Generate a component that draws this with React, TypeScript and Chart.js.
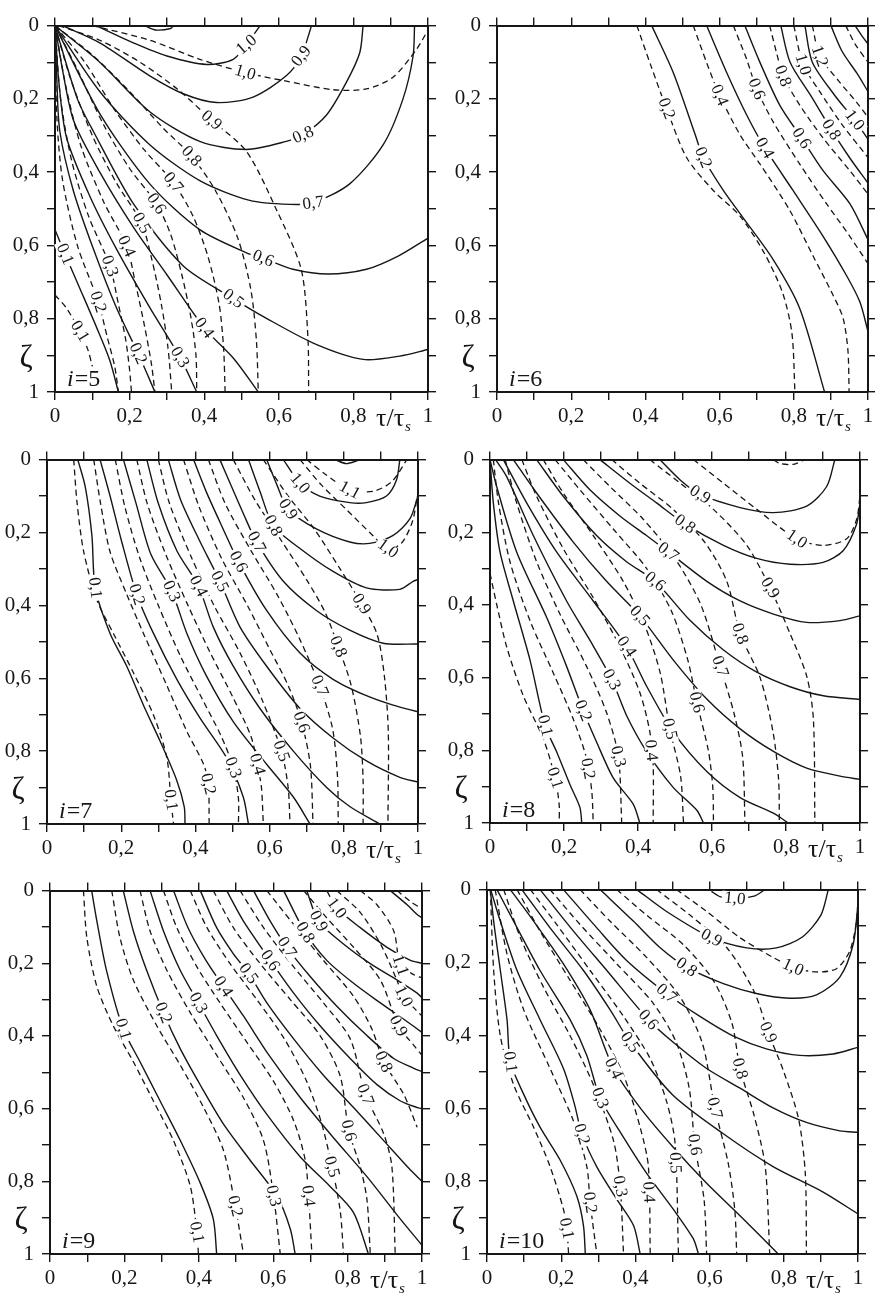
import { useEffect, useRef } from 'react';
import { Chart, registerables } from 'chart.js';

Chart.register(...registerables);

type Pt = [number, number];
type Lbl = [number, string, number, number]; // curve index, text, x, y

// ---------------- i = 5 ----------------
const I5_SOLID: Pt[][] = [
  [[0, 0.557], [0.027, 0.624], [0.067, 0.718], [0.112, 0.825], [0.147, 0.914], [0.17, 1]],
  [[0, 0], [0.005, 0.15], [0.013, 0.289], [0.049, 0.45], [0.103, 0.61], [0.165, 0.771], [0.223, 0.895], [0.268, 1]],
  [[0, 0], [0.01, 0.15], [0.031, 0.306], [0.094, 0.467], [0.165, 0.61], [0.255, 0.771], [0.335, 0.905], [0.38, 1]],
  [[0, 0], [0.02, 0.12], [0.05, 0.26], [0.12, 0.4], [0.21, 0.55], [0.3, 0.68], [0.4, 0.825], [0.48, 0.91], [0.545, 1]],
  [[0, 0], [0.06, 0.2], [0.103, 0.289], [0.21, 0.486], [0.344, 0.656], [0.478, 0.745], [0.567, 0.799], [0.7, 0.87], [0.826, 0.911], [0.924, 0.902], [1, 0.884]],
  [[0, 0], [0.12, 0.24], [0.254, 0.432], [0.388, 0.557], [0.522, 0.624], [0.558, 0.635], [0.638, 0.665], [0.732, 0.678], [0.835, 0.665], [0.92, 0.629], [1, 0.58]],
  [[0, 0], [0.12, 0.18], [0.254, 0.325], [0.388, 0.423], [0.522, 0.477], [0.63, 0.488], [0.692, 0.484], [0.79, 0.432], [0.88, 0.325], [0.933, 0.2], [0.96, 0.083], [0.964, 0]],
  [[0, 0], [0.12, 0.1], [0.254, 0.235], [0.388, 0.316], [0.513, 0.338], [0.62, 0.316], [0.665, 0.298], [0.728, 0.244], [0.781, 0.155], [0.817, 0.074], [0.826, 0]],
  [[0.02, 0], [0.12, 0.047], [0.254, 0.137], [0.344, 0.186], [0.433, 0.21], [0.531, 0.195], [0.62, 0.137], [0.66, 0.083], [0.688, 0]],
  [[0.11, 0], [0.21, 0.047], [0.3, 0.083], [0.406, 0.106], [0.478, 0.092], [0.513, 0.052], [0.55, 0]],
  [[0.24, 0], [0.27, 0.012], [0.31, 0.008], [0.317, 0]],
];
const I5_SOLID_LABELS: Lbl[] = [
  [0, '0,1', 0.027, 0.624], [1, '0,2', 0.223, 0.895], [2, '0,3', 0.335, 0.905], [3, '0,4', 0.4, 0.825],
  [4, '0,5', 0.478, 0.745], [5, '0,6', 0.558, 0.635], [6, '0,7', 0.692, 0.484], [7, '0,8', 0.665, 0.298],
  [8, '0,9', 0.66, 0.083], [9, '1,0', 0.513, 0.052],
];
const I5_DASHED: Pt[][] = [
  [[0, 0.735], [0.03, 0.77], [0.067, 0.834], [0.089, 0.887], [0.1, 0.93]],
  [[0, 0], [0.005, 0.25], [0.02, 0.42], [0.06, 0.6], [0.116, 0.754], [0.14, 0.85], [0.16, 0.93], [0.17, 1]],
  [[0, 0], [0.015, 0.2], [0.045, 0.37], [0.09, 0.52], [0.147, 0.656], [0.17, 0.76], [0.19, 0.86], [0.2, 0.94], [0.205, 1]],
  [[0, 0], [0.03, 0.17], [0.07, 0.33], [0.13, 0.48], [0.192, 0.602], [0.215, 0.7], [0.24, 0.82], [0.258, 0.92], [0.268, 1]],
  [[0, 0], [0.04, 0.14], [0.1, 0.3], [0.165, 0.43], [0.232, 0.539], [0.26, 0.64], [0.285, 0.76], [0.303, 0.88], [0.313, 1]],
  [[0, 0], [0.06, 0.12], [0.13, 0.27], [0.2, 0.39], [0.272, 0.486], [0.31, 0.57], [0.34, 0.68], [0.365, 0.8], [0.378, 0.9], [0.38, 1]],
  [[0, 0], [0.08, 0.1], [0.16, 0.23], [0.24, 0.34], [0.317, 0.428], [0.37, 0.52], [0.41, 0.63], [0.44, 0.76], [0.452, 0.88], [0.456, 1]],
  [[0, 0], [0.1, 0.08], [0.2, 0.18], [0.29, 0.28], [0.366, 0.356], [0.43, 0.45], [0.49, 0.58], [0.525, 0.72], [0.54, 0.86], [0.545, 1]],
  [[0.01, 0], [0.12, 0.04], [0.228, 0.1], [0.33, 0.175], [0.42, 0.258], [0.513, 0.343], [0.594, 0.503], [0.66, 0.665], [0.678, 0.85], [0.68, 1]],
  [[0.1, 0], [0.254, 0.04], [0.388, 0.092], [0.51, 0.128], [0.612, 0.15], [0.746, 0.175], [0.835, 0.173], [0.906, 0.141], [0.969, 0.065], [1, 0.012]],
];
const I5_DASHED_LABELS: Lbl[] = [
  [0, '0,1', 0.067, 0.834], [1, '0,2', 0.116, 0.754], [2, '0,3', 0.147, 0.656], [3, '0,4', 0.192, 0.602],
  [4, '0,5', 0.232, 0.539], [5, '0,6', 0.272, 0.486], [6, '0,7', 0.317, 0.428], [7, '0,8', 0.366, 0.356],
  [8, '0,9', 0.42, 0.258], [9, '1,0', 0.51, 0.128],
];

// ---------------- i = 6 ----------------
const I6_SOLID: Pt[][] = [
  [[0.417, 0], [0.475, 0.128], [0.535, 0.3], [0.556, 0.36], [0.61, 0.45], [0.66, 0.52], [0.744, 0.638], [0.816, 0.772], [0.883, 1]],
  [[0.565, 0], [0.619, 0.128], [0.673, 0.244], [0.722, 0.334], [0.798, 0.45], [0.879, 0.575], [0.942, 0.682], [0.978, 0.754], [1, 0.835]],
  [[0.668, 0], [0.709, 0.101], [0.762, 0.217], [0.821, 0.307], [0.879, 0.396], [0.951, 0.486], [1, 0.584]],
  [[0.765, 0], [0.79, 0.1], [0.845, 0.19], [0.901, 0.284], [0.95, 0.36], [1, 0.43]],
  [[0.83, 0], [0.85, 0.1], [0.91, 0.19], [0.964, 0.258], [1, 0.31]],
  [[0.9, 0], [0.93, 0.07], [0.97, 0.13], [1, 0.18]],
  [[0.965, 0], [0.985, 0.03], [1, 0.05]],
];
const I6_SOLID_LABELS: Lbl[] = [
  [0, '0,2', 0.556, 0.36], [1, '0,4', 0.722, 0.334], [2, '0,6', 0.821, 0.307], [3, '0,8', 0.901, 0.284], [4, '1,0', 0.964, 0.258],
];
const I6_DASHED: Pt[][] = [
  [[0.377, 0], [0.415, 0.11], [0.457, 0.226], [0.511, 0.36], [0.583, 0.45], [0.655, 0.52], [0.72, 0.62], [0.77, 0.73], [0.795, 0.84], [0.803, 1]],
  [[0.529, 0], [0.565, 0.101], [0.6, 0.19], [0.655, 0.298], [0.709, 0.378], [0.789, 0.504], [0.852, 0.629], [0.906, 0.736], [0.933, 0.799], [0.946, 0.888], [0.949, 1]],
  [[0.637, 0], [0.673, 0.092], [0.7, 0.173], [0.744, 0.262], [0.816, 0.378], [0.888, 0.486], [0.951, 0.575], [1, 0.65]],
  [[0.735, 0], [0.755, 0.08], [0.771, 0.137], [0.816, 0.217], [0.879, 0.307], [0.951, 0.396], [1, 0.46]],
  [[0.8, 0], [0.825, 0.106], [0.87, 0.18], [0.93, 0.27], [1, 0.36]],
  [[0.85, 0], [0.87, 0.083], [0.92, 0.15], [0.97, 0.21], [1, 0.25]],
  [[0.94, 0], [0.965, 0.05], [1, 0.1]],
];
const I6_DASHED_LABELS: Lbl[] = [
  [0, '0,2', 0.457, 0.226], [1, '0,4', 0.6, 0.19], [2, '0,6', 0.7, 0.173], [3, '0,8', 0.771, 0.137], [4, '1,0', 0.825, 0.106], [5, '1,2', 0.87, 0.083],
];

// ---------------- i = 7 ----------------
const I7_SOLID: Pt[][] = [
  [[0.083, 0], [0.103, 0.074], [0.121, 0.208], [0.13, 0.352], [0.17, 0.477], [0.215, 0.567], [0.26, 0.674], [0.305, 0.773], [0.35, 0.881], [0.37, 0.953], [0.372, 1]],
  [[0.143, 0], [0.17, 0.1], [0.2, 0.22], [0.242, 0.37], [0.287, 0.477], [0.35, 0.603], [0.413, 0.71], [0.484, 0.818], [0.529, 0.926], [0.543, 1]],
  [[0.206, 0], [0.24, 0.12], [0.28, 0.26], [0.336, 0.361], [0.377, 0.477], [0.43, 0.594], [0.502, 0.719], [0.592, 0.836], [0.664, 0.926], [0.709, 1]],
  [[0.269, 0], [0.3, 0.12], [0.35, 0.25], [0.408, 0.347], [0.448, 0.459], [0.502, 0.567], [0.574, 0.683], [0.664, 0.8], [0.753, 0.899], [0.816, 0.952], [0.897, 1]],
  [[0.327, 0], [0.36, 0.11], [0.41, 0.22], [0.466, 0.334], [0.52, 0.459], [0.592, 0.567], [0.682, 0.683], [0.771, 0.764], [0.861, 0.827], [0.951, 0.872], [1, 0.885]],
  [[0.395, 0], [0.43, 0.09], [0.47, 0.18], [0.516, 0.28], [0.592, 0.414], [0.682, 0.531], [0.771, 0.603], [0.861, 0.648], [0.933, 0.674], [1, 0.692]],
  [[0.466, 0], [0.5, 0.08], [0.53, 0.15], [0.565, 0.226], [0.637, 0.334], [0.726, 0.414], [0.816, 0.468], [0.906, 0.504], [1, 0.506]],
  [[0.543, 0], [0.575, 0.09], [0.61, 0.181], [0.682, 0.244], [0.771, 0.307], [0.861, 0.352], [0.951, 0.356], [0.987, 0.334], [1, 0.329]],
  [[0.592, 0], [0.62, 0.07], [0.65, 0.136], [0.726, 0.19], [0.816, 0.226], [0.87, 0.23], [0.933, 0.208], [0.978, 0.163], [1, 0.1]],
  [[0.637, 0], [0.682, 0.065], [0.735, 0.1], [0.816, 0.118], [0.861, 0.118], [0.915, 0.1], [0.942, 0.056], [0.951, 0]],
  [[0.776, 0], [0.807, 0.011], [0.839, 0.002]],
];
const I7_SOLID_LABELS: Lbl[] = [
  [0, '0,1', 0.13, 0.352], [1, '0,2', 0.242, 0.37], [2, '0,3', 0.336, 0.361], [3, '0,4', 0.408, 0.347],
  [4, '0,5', 0.466, 0.334], [5, '0,6', 0.516, 0.28], [6, '0,7', 0.565, 0.226], [7, '0,8', 0.61, 0.181],
  [8, '0,9', 0.65, 0.136], [9, '1,0', 0.682, 0.065],
];
const I7_DASHED: Pt[][] = [
  [[0.072, 0], [0.081, 0.118], [0.099, 0.253], [0.135, 0.387], [0.179, 0.477], [0.233, 0.585], [0.287, 0.701], [0.323, 0.818], [0.334, 0.934], [0.341, 1]],
  [[0.126, 0], [0.144, 0.118], [0.17, 0.253], [0.215, 0.37], [0.26, 0.477], [0.323, 0.62], [0.377, 0.746], [0.422, 0.836], [0.435, 0.89], [0.437, 1]],
  [[0.184, 0], [0.21, 0.13], [0.25, 0.27], [0.3, 0.4], [0.36, 0.54], [0.42, 0.66], [0.47, 0.76], [0.502, 0.845], [0.516, 0.93], [0.516, 1]],
  [[0.242, 0], [0.27, 0.12], [0.32, 0.26], [0.38, 0.4], [0.44, 0.53], [0.5, 0.65], [0.55, 0.76], [0.567, 0.836], [0.578, 0.9], [0.583, 1]],
  [[0.3, 0], [0.33, 0.12], [0.39, 0.27], [0.45, 0.4], [0.52, 0.53], [0.58, 0.66], [0.632, 0.8], [0.65, 0.9], [0.655, 1]],
  [[0.368, 0], [0.41, 0.13], [0.47, 0.27], [0.54, 0.4], [0.6, 0.52], [0.65, 0.62], [0.686, 0.72], [0.71, 0.84], [0.717, 1]],
  [[0.435, 0], [0.48, 0.12], [0.55, 0.25], [0.62, 0.37], [0.68, 0.49], [0.735, 0.621], [0.77, 0.74], [0.783, 0.87], [0.785, 1]],
  [[0.502, 0], [0.56, 0.11], [0.63, 0.22], [0.7, 0.33], [0.75, 0.42], [0.785, 0.513], [0.82, 0.62], [0.845, 0.76], [0.852, 0.88], [0.852, 1]],
  [[0.583, 0], [0.65, 0.1], [0.72, 0.19], [0.79, 0.3], [0.848, 0.396], [0.89, 0.48], [0.91, 0.6], [0.92, 0.75], [0.919, 1]],
  [[0.682, 0], [0.74, 0.07], [0.81, 0.14], [0.87, 0.2], [0.919, 0.244], [0.955, 0.23], [0.985, 0.17], [0.998, 0.1]],
  [[0.7, 0], [0.75, 0.04], [0.816, 0.083], [0.88, 0.087], [0.93, 0.06], [0.97, 0]],
];
const I7_DASHED_LABELS: Lbl[] = [
  [0, '0,1', 0.334, 0.934], [1, '0,2', 0.435, 0.89], [2, '0,3', 0.502, 0.845], [3, '0,4', 0.567, 0.836],
  [4, '0,5', 0.632, 0.8], [5, '0,6', 0.686, 0.72], [6, '0,7', 0.735, 0.621], [7, '0,8', 0.785, 0.513],
  [8, '0,9', 0.848, 0.396], [9, '1,0', 0.919, 0.244], [10, '1,1', 0.816, 0.083],
];

// ---------------- i = 8 ----------------
const I8_SOLID: Pt[][] = [
  [[0, 0], [0.009, 0.119], [0.027, 0.254], [0.063, 0.389], [0.108, 0.551], [0.149, 0.732], [0.18, 0.804], [0.216, 0.894], [0.243, 0.957], [0.248, 1]],
  [[0, 0], [0.018, 0.074], [0.072, 0.254], [0.153, 0.434], [0.207, 0.569], [0.252, 0.691], [0.288, 0.777], [0.333, 0.876], [0.387, 0.948], [0.405, 1]],
  [[0.015, 0], [0.045, 0.047], [0.117, 0.209], [0.207, 0.389], [0.27, 0.497], [0.329, 0.605], [0.369, 0.704], [0.423, 0.803], [0.495, 0.902], [0.559, 0.965], [0.577, 1]],
  [[0.036, 0], [0.099, 0.119], [0.18, 0.254], [0.279, 0.389], [0.369, 0.515], [0.423, 0.623], [0.495, 0.749], [0.586, 0.858], [0.676, 0.93], [0.766, 0.973], [0.806, 1]],
  [[0.063, 0], [0.126, 0.092], [0.225, 0.227], [0.315, 0.335], [0.405, 0.43], [0.495, 0.551], [0.586, 0.659], [0.676, 0.741], [0.766, 0.803], [0.856, 0.849], [0.946, 0.871], [1, 0.88]],
  [[0.126, 0], [0.198, 0.101], [0.288, 0.209], [0.369, 0.281], [0.446, 0.335], [0.541, 0.443], [0.631, 0.524], [0.721, 0.585], [0.811, 0.625], [0.901, 0.65], [1, 0.66]],
  [[0.198, 0], [0.27, 0.083], [0.351, 0.155], [0.423, 0.209], [0.482, 0.254], [0.586, 0.335], [0.676, 0.389], [0.766, 0.425], [0.856, 0.448], [0.946, 0.443], [1, 0.43]],
  [[0.297, 0], [0.378, 0.065], [0.45, 0.119], [0.527, 0.177], [0.631, 0.236], [0.721, 0.272], [0.811, 0.288], [0.9, 0.283], [0.955, 0.25], [0.99, 0.18], [1, 0.12]],
  [[0.459, 0], [0.514, 0.056], [0.568, 0.096], [0.676, 0.132], [0.766, 0.146], [0.856, 0.128], [0.91, 0.074], [0.932, 0]],
];
const I8_SOLID_LABELS: Lbl[] = [
  [0, '0,1', 0.149, 0.732], [1, '0,2', 0.252, 0.691], [2, '0,3', 0.329, 0.605], [3, '0,4', 0.369, 0.515],
  [4, '0,5', 0.405, 0.43], [5, '0,6', 0.446, 0.335], [6, '0,7', 0.482, 0.254], [7, '0,8', 0.527, 0.177], [8, '0,9', 0.568, 0.096],
];
const I8_DASHED: Pt[][] = [
  [[0, 0.313], [0.018, 0.398], [0.045, 0.515], [0.09, 0.65], [0.144, 0.768], [0.176, 0.876], [0.187, 0.95], [0.187, 1]],
  [[0.009, 0], [0.023, 0.119], [0.054, 0.281], [0.108, 0.443], [0.171, 0.587], [0.225, 0.714], [0.261, 0.822], [0.275, 0.912], [0.279, 1]],
  [[0.041, 0], [0.072, 0.119], [0.126, 0.281], [0.189, 0.425], [0.261, 0.569], [0.315, 0.696], [0.347, 0.817], [0.356, 1]],
  [[0.086, 0], [0.126, 0.101], [0.198, 0.245], [0.279, 0.38], [0.351, 0.515], [0.405, 0.641], [0.432, 0.749], [0.441, 0.84], [0.441, 1]],
  [[0.144, 0], [0.198, 0.092], [0.279, 0.209], [0.36, 0.335], [0.42, 0.461], [0.46, 0.587], [0.486, 0.741], [0.515, 0.87], [0.523, 1]],
  [[0.176, 0], [0.243, 0.083], [0.333, 0.191], [0.423, 0.299], [0.49, 0.416], [0.535, 0.553], [0.559, 0.668], [0.59, 0.8], [0.602, 0.9], [0.604, 1]],
  [[0.252, 0], [0.324, 0.074], [0.414, 0.164], [0.5, 0.272], [0.57, 0.4], [0.622, 0.569], [0.66, 0.7], [0.683, 0.82], [0.689, 1]],
  [[0.329, 0], [0.405, 0.065], [0.495, 0.137], [0.58, 0.227], [0.64, 0.335], [0.676, 0.479], [0.73, 0.6], [0.765, 0.75], [0.78, 0.88], [0.782, 1]],
  [[0.432, 0], [0.514, 0.065], [0.604, 0.137], [0.694, 0.236], [0.757, 0.353], [0.811, 0.479], [0.856, 0.596], [0.874, 0.714], [0.878, 1]],
  [[0.55, 0], [0.631, 0.065], [0.721, 0.137], [0.829, 0.218], [0.901, 0.236], [0.964, 0.218], [0.991, 0.164], [1, 0.1]],
  [[0.766, 0], [0.784, 0.011], [0.82, 0.013], [0.847, 0.002]],
];
const I8_DASHED_LABELS: Lbl[] = [
  [0, '0,1', 0.176, 0.876], [1, '0,2', 0.265, 0.85], [2, '0,3', 0.347, 0.817], [3, '0,4', 0.436, 0.8],
  [4, '0,5', 0.486, 0.741], [5, '0,6', 0.559, 0.668], [6, '0,7', 0.622, 0.569], [7, '0,8', 0.676, 0.479],
  [8, '0,9', 0.757, 0.353], [9, '1,0', 0.829, 0.218],
];

// ---------------- i = 9 ----------------
const I9_SOLID: Pt[][] = [
  [[0.112, 0], [0.126, 0.084], [0.152, 0.22], [0.197, 0.381], [0.242, 0.471], [0.296, 0.579], [0.35, 0.687], [0.404, 0.805], [0.439, 0.904], [0.448, 1]],
  [[0.197, 0], [0.224, 0.111], [0.26, 0.22], [0.305, 0.336], [0.35, 0.435], [0.404, 0.535], [0.466, 0.642], [0.538, 0.742], [0.61, 0.84], [0.646, 0.931], [0.659, 1]],
  [[0.269, 0], [0.305, 0.111], [0.35, 0.219], [0.399, 0.309], [0.448, 0.399], [0.511, 0.507], [0.583, 0.616], [0.673, 0.733], [0.753, 0.814], [0.816, 0.886], [0.856, 1]],
  [[0.332, 0], [0.37, 0.1], [0.418, 0.19], [0.466, 0.264], [0.52, 0.345], [0.59, 0.455], [0.673, 0.57], [0.762, 0.68], [0.852, 0.787], [0.942, 0.904], [1, 0.976]],
  [[0.404, 0], [0.448, 0.102], [0.493, 0.174], [0.534, 0.228], [0.583, 0.309], [0.655, 0.408], [0.735, 0.508], [0.816, 0.597], [0.897, 0.688], [0.969, 0.769], [1, 0.8]],
  [[0.475, 0], [0.52, 0.084], [0.592, 0.192], [0.655, 0.282], [0.726, 0.372], [0.807, 0.462], [0.879, 0.534], [0.942, 0.579], [0.987, 0.597], [1, 0.6]],
  [[0.547, 0], [0.592, 0.084], [0.637, 0.156], [0.7, 0.237], [0.771, 0.318], [0.852, 0.399], [0.924, 0.462], [0.978, 0.489], [1, 0.498]],
  [[0.628, 0], [0.686, 0.115], [0.744, 0.192], [0.816, 0.255], [0.888, 0.309], [0.951, 0.354], [1, 0.39]],
  [[0.69, 0], [0.722, 0.084], [0.789, 0.147], [0.861, 0.201], [0.933, 0.246], [0.987, 0.282], [1, 0.295]],
  [[0.744, 0], [0.771, 0.048], [0.834, 0.102], [0.906, 0.156], [0.969, 0.192], [1, 0.2]],
  [[0.915, 0], [0.96, 0.039], [0.987, 0.066], [1, 0.075]],
];
const I9_SOLID_LABELS: Lbl[] = [
  [0, '0,1', 0.197, 0.381], [1, '0,2', 0.305, 0.336], [2, '0,3', 0.399, 0.309], [3, '0,4', 0.466, 0.264],
  [4, '0,5', 0.534, 0.228], [5, '0,6', 0.592, 0.192], [6, '0,7', 0.637, 0.156], [7, '0,8', 0.686, 0.115],
  [8, '0,9', 0.722, 0.084], [9, '1,0', 0.771, 0.048],
];
const I9_DASHED: Pt[][] = [
  [[0.09, 0], [0.099, 0.129], [0.126, 0.264], [0.17, 0.372], [0.224, 0.471], [0.278, 0.579], [0.332, 0.688], [0.377, 0.813], [0.395, 0.94], [0.399, 1]],
  [[0.166, 0], [0.188, 0.129], [0.224, 0.246], [0.287, 0.372], [0.35, 0.48], [0.413, 0.597], [0.466, 0.714], [0.498, 0.868], [0.52, 1]],
  [[0.242, 0], [0.269, 0.111], [0.314, 0.219], [0.377, 0.336], [0.448, 0.453], [0.52, 0.57], [0.574, 0.688], [0.601, 0.84], [0.619, 1]],
  [[0.305, 0], [0.341, 0.102], [0.395, 0.21], [0.457, 0.309], [0.529, 0.417], [0.601, 0.525], [0.655, 0.633], [0.686, 0.741], [0.695, 0.84], [0.704, 1]],
  [[0.377, 0], [0.422, 0.102], [0.484, 0.201], [0.556, 0.3], [0.63, 0.408], [0.69, 0.525], [0.73, 0.64], [0.758, 0.76], [0.78, 0.88], [0.789, 1]],
  [[0.439, 0], [0.493, 0.102], [0.565, 0.201], [0.646, 0.3], [0.726, 0.399], [0.78, 0.51], [0.803, 0.66], [0.834, 0.76], [0.852, 0.85], [0.861, 1]],
  [[0.511, 0], [0.574, 0.102], [0.655, 0.21], [0.735, 0.309], [0.807, 0.408], [0.848, 0.561], [0.897, 0.669], [0.919, 0.759], [0.928, 1]],
  [[0.583, 0], [0.655, 0.093], [0.735, 0.192], [0.816, 0.291], [0.865, 0.38], [0.897, 0.471], [0.951, 0.561], [0.987, 0.651]],
  [[0.682, 0], [0.744, 0.075], [0.816, 0.156], [0.888, 0.246], [0.937, 0.372], [0.978, 0.426], [1, 0.453]],
  [[0.771, 0], [0.834, 0.06], [0.89, 0.15], [0.93, 0.24], [0.951, 0.291], [0.985, 0.33], [1, 0.345]],
  [[0.834, 0], [0.879, 0.039], [0.924, 0.111], [0.942, 0.205], [0.975, 0.23], [1, 0.24]],
  [[0.933, 0], [0.969, 0.03], [1, 0.05]],
];
const I9_DASHED_LABELS: Lbl[] = [
  [0, '0,1', 0.395, 0.94], [1, '0,2', 0.498, 0.868], [2, '0,3', 0.601, 0.84], [3, '0,4', 0.695, 0.84],
  [4, '0,5', 0.758, 0.76], [5, '0,6', 0.803, 0.66], [6, '0,7', 0.848, 0.561], [7, '0,8', 0.897, 0.471],
  [8, '0,9', 0.937, 0.372], [9, '1,0', 0.951, 0.291], [10, '1,1', 0.942, 0.205],
];

// ---------------- i = 10 ----------------
const I10_SOLID: Pt[][] = [
  [[0.009, 0], [0.018, 0.087], [0.036, 0.222], [0.054, 0.357], [0.063, 0.473], [0.099, 0.562], [0.143, 0.652], [0.197, 0.742], [0.242, 0.841], [0.26, 0.922], [0.265, 1]],
  [[0.01, 0], [0.036, 0.087], [0.081, 0.222], [0.143, 0.357], [0.206, 0.491], [0.236, 0.59], [0.256, 0.671], [0.296, 0.761], [0.35, 0.85], [0.395, 0.922], [0.413, 1]],
  [[0.027, 0], [0.072, 0.087], [0.143, 0.222], [0.224, 0.357], [0.269, 0.455], [0.305, 0.572], [0.368, 0.68], [0.43, 0.778], [0.502, 0.877], [0.556, 0.958], [0.57, 1]],
  [[0.063, 0], [0.126, 0.087], [0.206, 0.204], [0.278, 0.33], [0.341, 0.491], [0.413, 0.599], [0.502, 0.707], [0.592, 0.806], [0.682, 0.895], [0.785, 1]],
  [[0.094, 0], [0.17, 0.105], [0.26, 0.222], [0.332, 0.33], [0.386, 0.419], [0.5, 0.563], [0.637, 0.67], [0.771, 0.76], [0.906, 0.83], [1, 0.89]],
  [[0.143, 0], [0.233, 0.114], [0.323, 0.222], [0.435, 0.357], [0.502, 0.419], [0.592, 0.491], [0.682, 0.545], [0.771, 0.599], [0.861, 0.639], [0.951, 0.662], [1, 0.666]],
  [[0.206, 0], [0.296, 0.105], [0.377, 0.195], [0.484, 0.285], [0.574, 0.348], [0.664, 0.402], [0.753, 0.437], [0.843, 0.455], [0.933, 0.451], [1, 0.433]],
  [[0.305, 0], [0.395, 0.087], [0.466, 0.159], [0.538, 0.213], [0.637, 0.258], [0.726, 0.285], [0.816, 0.298], [0.888, 0.289], [0.951, 0.24], [0.987, 0.15], [1, 0.04]],
  [[0.404, 0], [0.484, 0.06], [0.605, 0.132], [0.7, 0.16], [0.78, 0.16], [0.85, 0.13], [0.9, 0.07], [0.92, 0]],
  [[0.605, 0.005], [0.63, 0.02], [0.668, 0.024], [0.72, 0.018], [0.749, 0]],
];
const I10_SOLID_LABELS: Lbl[] = [
  [0, '0,1', 0.063, 0.473], [1, '0,2', 0.256, 0.671], [2, '0,3', 0.305, 0.572], [3, '0,4', 0.341, 0.491],
  [4, '0,5', 0.386, 0.419], [5, '0,6', 0.435, 0.357], [6, '0,7', 0.484, 0.285], [7, '0,8', 0.538, 0.213],
  [8, '0,9', 0.605, 0.132], [9, '1,0', 0.668, 0.024],
];
const I10_DASHED: Pt[][] = [
  [[0.009, 0], [0.018, 0.222], [0.036, 0.402], [0.072, 0.536], [0.126, 0.653], [0.17, 0.76], [0.206, 0.877], [0.215, 0.93], [0.22, 1]],
  [[0.022, 0], [0.054, 0.177], [0.099, 0.33], [0.17, 0.491], [0.233, 0.635], [0.269, 0.76], [0.278, 0.859], [0.296, 1]],
  [[0.045, 0], [0.09, 0.132], [0.152, 0.267], [0.224, 0.401], [0.287, 0.536], [0.341, 0.689], [0.359, 0.814], [0.368, 1]],
  [[0.081, 0], [0.143, 0.114], [0.224, 0.249], [0.305, 0.384], [0.368, 0.509], [0.413, 0.653], [0.435, 0.76], [0.44, 1]],
  [[0.117, 0], [0.188, 0.096], [0.278, 0.222], [0.368, 0.348], [0.44, 0.464], [0.484, 0.581], [0.507, 0.697], [0.516, 1]],
  [[0.17, 0], [0.251, 0.096], [0.35, 0.204], [0.448, 0.312], [0.51, 0.419], [0.545, 0.545], [0.56, 0.7], [0.585, 0.85], [0.592, 1]],
  [[0.251, 0], [0.332, 0.087], [0.43, 0.186], [0.52, 0.294], [0.58, 0.42], [0.614, 0.599], [0.65, 0.75], [0.668, 0.88], [0.673, 1]],
  [[0.35, 0], [0.43, 0.07], [0.529, 0.151], [0.61, 0.249], [0.66, 0.366], [0.682, 0.491], [0.72, 0.62], [0.75, 0.76], [0.762, 1]],
  [[0.457, 0], [0.547, 0.07], [0.646, 0.159], [0.72, 0.28], [0.758, 0.392], [0.8, 0.5], [0.84, 0.63], [0.858, 0.78], [0.861, 1]],
  [[0.511, 0], [0.592, 0.06], [0.682, 0.132], [0.771, 0.186], [0.825, 0.213], [0.888, 0.226], [0.942, 0.217], [0.978, 0.168], [0.996, 0.087], [1, 0.024]],
];
const I10_DASHED_LABELS: Lbl[] = [
  [0, '0,1', 0.215, 0.93], [1, '0,2', 0.278, 0.859], [2, '0,3', 0.359, 0.814], [3, '0,4', 0.436, 0.83],
  [4, '0,5', 0.508, 0.75], [5, '0,6', 0.56, 0.7], [6, '0,7', 0.614, 0.599], [7, '0,8', 0.682, 0.491],
  [8, '0,9', 0.758, 0.392], [9, '1,0', 0.825, 0.213],
];

// ---------------- axes ----------------
const TICK_LABELS = ['0', '', '0,2', '', '0,4', '', '0,6', '', '0,8', '', '1'];

type Panel = {
  n: string;
  solid: Pt[][];
  solidLabels: Lbl[];
  dashed: Pt[][];
  dashedLabels: Lbl[];
  rect: [number, number, number, number];
};

const PANELS: Panel[] = [
  { n: '5', solid: I5_SOLID, solidLabels: I5_SOLID_LABELS, dashed: I5_DASHED, dashedLabels: I5_DASHED_LABELS, rect: [55, 19, 428, 392] },
  { n: '6', solid: I6_SOLID, solidLabels: I6_SOLID_LABELS, dashed: I6_DASHED, dashedLabels: I6_DASHED_LABELS, rect: [497, 19, 868, 392] },
  { n: '7', solid: I7_SOLID, solidLabels: I7_SOLID_LABELS, dashed: I7_DASHED, dashedLabels: I7_DASHED_LABELS, rect: [47, 453, 418, 824] },
  { n: '8', solid: I8_SOLID, solidLabels: I8_SOLID_LABELS, dashed: I8_DASHED, dashedLabels: I8_DASHED_LABELS, rect: [490, 453, 860, 823] },
  { n: '9', solid: I9_SOLID, solidLabels: I9_SOLID_LABELS, dashed: I9_DASHED, dashedLabels: I9_DASHED_LABELS, rect: [50, 884, 422, 1254] },
  { n: '10', solid: I10_SOLID, solidLabels: I10_SOLID_LABELS, dashed: I10_DASHED, dashedLabels: I10_DASHED_LABELS, rect: [487, 883, 858, 1254] },
];

const PAD_L = 48;
const PAD_T = 14;
const PAD_R = 10;
const PAD_B = 42;
const INK = '#161616';
const SERIF = '"Liberation Serif", "DejaVu Serif", serif';

function makeAxis(position: string, axis: 'x' | 'y', showLabels: boolean, size: number) {
  return {
    type: 'linear',
    axis,
    position,
    min: 0,
    max: 1,
    reverse: axis === 'y',
    ticks: {
      stepSize: 0.1,
      autoSkip: false,
      maxRotation: 0,
      minRotation: 0,
      display: showLabels,
      padding: axis === 'y' ? 8 : 4,
      color: INK,
      font: { family: SERIF, size: 21 },
      callback: (v: number) => TICK_LABELS[Math.round(Number(v) * 10)] ?? '',
    },
    grid: {
      drawOnChartArea: false,
      drawTicks: true,
      tickLength: 8,
      tickWidth: 1.4,
      tickColor: INK,
      color: INK,
      lineWidth: 1.4,
    },
    border: { display: true, color: INK, width: 2 },
    afterFit: (s: any) => {
      if (axis === 'x') s.height = size;
      else s.width = size;
    },
  };
}

function overlayPlugin(p: Panel) {
  return {
    id: 'overlay' + p.n,
    afterDatasetsDraw(chart: any) {
      const ctx: CanvasRenderingContext2D = chart.ctx;
      const a = chart.chartArea;
      const xs = chart.scales.x;
      const ys = chart.scales.y;
      const px = (v: number) => xs.getPixelForValue(v);
      const py = (v: number) => ys.getPixelForValue(v);

      const drawLabels = (curves: Pt[][], labels: Lbl[]) => {
        for (const [ci, text, lx, ly] of labels) {
          const X = px(lx);
          const Y = py(ly);
          const pts = curves[ci].map(([x, y]) => [px(x), py(y)]);
          let best = Infinity;
          let ang = 0;
          for (let k = 0; k < pts.length - 1; k++) {
            const [x1, y1] = pts[k];
            const [x2, y2] = pts[k + 1];
            const dx = x2 - x1;
            const dy = y2 - y1;
            const l2 = dx * dx + dy * dy;
            let t = l2 ? ((X - x1) * dx + (Y - y1) * dy) / l2 : 0;
            t = Math.max(0, Math.min(1, t));
            const qx = x1 + t * dx - X;
            const qy = y1 + t * dy - Y;
            const d = qx * qx + qy * qy;
            if (d < best - 0.01) {
              best = d;
              const p0 = pts[Math.max(0, k - 1)];
              const p3 = pts[Math.min(pts.length - 1, k + 2)];
              ang = Math.atan2(p3[1] - p0[1] + 2 * dy, p3[0] - p0[0] + 2 * dx);
            }
          }
          if (ang > Math.PI / 2) ang -= Math.PI;
          else if (ang <= -Math.PI / 2) ang += Math.PI;
          ctx.save();
          ctx.translate(X, Y);
          ctx.rotate(ang);
          ctx.font = '17px ' + SERIF;
          const w = ctx.measureText(text).width;
          ctx.fillStyle = '#fff';
          ctx.fillRect(-w / 2 - 2.5, -6.5, w + 5, 13);
          ctx.fillStyle = INK;
          ctx.textAlign = 'center';
          ctx.textBaseline = 'middle';
          ctx.fillText(text, 0, 0.5);
          ctx.restore();
        }
      };
      drawLabels(p.solid, p.solidLabels);
      drawLabels(p.dashed, p.dashedLabels);

      ctx.save();
      ctx.fillStyle = INK;
      ctx.textAlign = 'left';
      ctx.textBaseline = 'alphabetic';
      ctx.font = 'italic 24px ' + SERIF;
      const ix = a.left + 12;
      const iy = a.bottom - 6;
      ctx.fillText('i', ix, iy);
      const iw = ctx.measureText('i').width;
      ctx.font = '24px ' + SERIF;
      ctx.fillText('=' + p.n, ix + iw + 1, iy);
      ctx.font = '32px ' + SERIF;
      ctx.textAlign = 'center';
      ctx.textBaseline = 'middle';
      ctx.fillText('ζ', a.left - 29, a.bottom - 33);
      ctx.textAlign = 'left';
      ctx.textBaseline = 'alphabetic';
      ctx.font = '26px ' + SERIF;
      const tx = a.right - 52;
      const ty = a.bottom + 34;
      ctx.fillText('τ/τ', tx, ty);
      const tw = ctx.measureText('τ/τ').width;
      ctx.font = 'italic 15px ' + SERIF;
      ctx.fillText('s', tx + tw + 1, ty + 5);
      ctx.restore();
    },
  };
}

function makeConfig(p: Panel): any {
  const toData = (c: Pt[]) => c.map(([x, y]) => ({ x, y }));
  const datasets = [
    ...p.solid.map((c) => ({
      data: toData(c),
      showLine: true,
      borderColor: INK,
      borderWidth: 1.4,
      pointRadius: 0,
      pointHoverRadius: 0,
      tension: 0.28,
      fill: false,
    })),
    ...p.dashed.map((c) => ({
      data: toData(c),
      showLine: true,
      borderColor: INK,
      borderWidth: 1.3,
      borderDash: [6, 4],
      pointRadius: 0,
      pointHoverRadius: 0,
      tension: 0.28,
      fill: false,
    })),
  ];
  return {
    type: 'scatter',
    data: { datasets },
    options: {
      animation: false,
      responsive: false,
      maintainAspectRatio: false,
      devicePixelRatio: 1,
      events: [],
      layout: { padding: 0 },
      plugins: { legend: { display: false }, tooltip: { enabled: false }, title: { display: false } },
      scales: {
        x: makeAxis('bottom', 'x', true, PAD_B),
        x2: makeAxis('top', 'x', false, PAD_T),
        y: makeAxis('left', 'y', true, PAD_L),
        y2: makeAxis('right', 'y', false, PAD_R),
      },
    },
    plugins: [overlayPlugin(p)],
  };
}

export default function App() {
  const refs = useRef<(HTMLCanvasElement | null)[]>([]);
  useEffect(() => {
    const charts = PANELS.map((p, i) => new Chart(refs.current[i] as HTMLCanvasElement, makeConfig(p)));
    return () => charts.forEach((c) => c.destroy());
  }, []);
  return (
    <div style={{ position: 'absolute', left: 0, top: 0, width: 875, height: 1298, overflow: 'hidden', background: '#fff' }}>
      {PANELS.map((p, i) => {
        const [L, T, R, B] = p.rect;
        const w = R - L + PAD_L + PAD_R;
        const h = B - T + PAD_T + PAD_B;
        return (
          <canvas
            key={p.n}
            ref={(el) => {
              refs.current[i] = el;
            }}
            width={w}
            height={h}
            style={{ position: 'absolute', left: L - PAD_L, top: T - PAD_T, width: w, height: h }}
          />
        );
      })}
    </div>
  );
}
